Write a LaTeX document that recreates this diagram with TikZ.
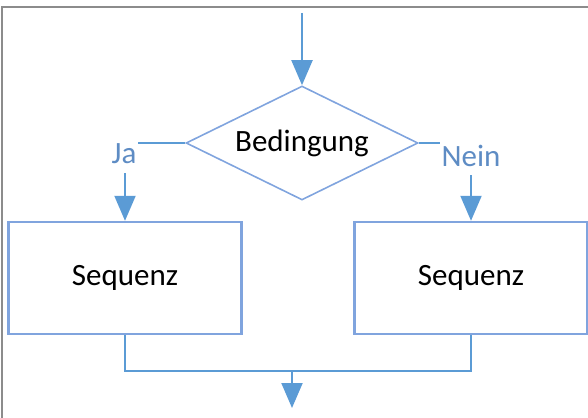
\documentclass[tikz,border=0pt]{standalone}
\usepackage{fontspec}
\usepackage{xcolor}
\usepackage{tikz}
\usetikzlibrary{shapes.geometric}
\usetikzlibrary{arrows.meta}
\setmainfont{Carlito}
\definecolor{flowblue}{RGB}{91,155,213}
\definecolor{boxblue}{RGB}{128,164,222}
\definecolor{labelblue}{RGB}{94,140,196}
\definecolor{framegray}{RGB}{140,140,140}
\tikzset{
	flow/.style={draw=flowblue, line width=2pt, -{Triangle[width=21pt,length=25pt]}},
	line/.style={draw=flowblue, line width=2pt},
	seqbox/.style={draw=boxblue, line width=2.4pt, minimum width=233pt, minimum height=112pt, inner sep=0pt},
	cond/.style={diamond, aspect=2, draw=boxblue, line width=1.6pt, minimum width=232pt, minimum height=114pt, inner sep=0pt},
	answer/.style={text=labelblue, inner sep=0pt}
}
\def\seqy{278}
\def\fsize{31}

\begin{document}
\begin{tikzpicture}[x=1pt, y=-1pt, font=\fontsize{\fsize}{37}\selectfont]
		\useasboundingbox (0,0) rectangle (588,417);
		\draw[framegray, line width=2pt] (2,7) rectangle (620,440);
		% nodes
		\node[cond] (bed) at (302,143) {Bedingung};
		\node[seqbox] (seqL) at (125,\seqy) {Sequenz};
		\node[seqbox] (seqR) at (471,\seqy) {Sequenz};
		\node[answer] (ja) at (124,154) {Ja};
		\node[answer] (nein) at (471,156) {Nein};
		\coordinate (start) at (302,13);
		\coordinate (jaend) at (138,143);
		\coordinate (neinend) at (440,143);
		\coordinate (ja-a) at (125,173);
		\coordinate (nein-a) at (471,175);
		\coordinate (merge) at (292,371);
		\coordinate (stop) at (292,408);
		% connectors
		\draw[flow] (start) -- (bed);
		\draw[line] (bed.west) -- (jaend);
		\draw[line] (bed.east) -- (neinend);
		\draw[flow] (ja-a) -- (seqL);
		\draw[flow] (nein-a) -- (seqR);
		\draw[line] (seqL) |- (merge) -| (seqR);
		\draw[flow] (merge) -- (stop);
	\end{tikzpicture}
\end{document}
